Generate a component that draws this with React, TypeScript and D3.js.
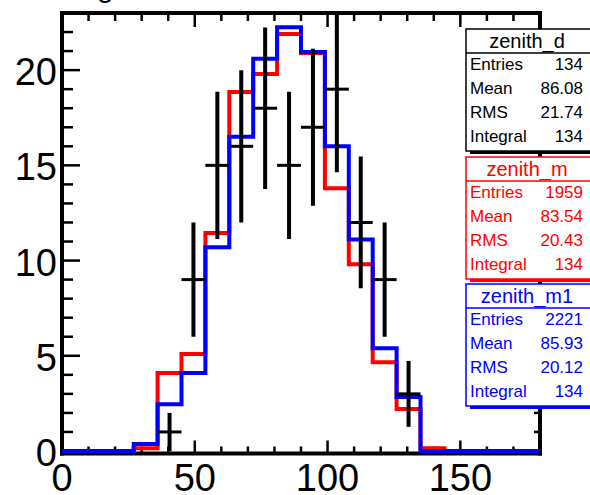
import React from "react";
import * as d3 from "d3";

// ---- data ----
const binEdges = d3.range(0, 181, 9); // 20 bins of width 9 between 0 and 180
const redValues = [0, 0, 0, 0.15, 4.1, 5.1, 11.45, 18.85, 19.8, 21.9, 20.9, 13.8, 9.8, 4.66, 2.2, 0.15, 0, 0, 0, 0];
const blueValues = [0, 0, 0, 0.37, 2.46, 4.1, 10.7, 16.5, 20.6, 22.25, 20.95, 16.0, 11.1, 5.4, 2.83, 0, 0, 0, 0, 0];
const dataCounts = [0, 0, 0, 0, 1, 9, 15, 16, 18, 15, 17, 19, 12, 9, 3, 0, 0, 0, 0, 0];
const dataErrors = [0, 0, 0, 0, 1, 3, 3.87, 4, 4.24, 3.87, 4.12, 4.36, 3.46, 3, 1.73, 0, 0, 0, 0, 0];

const xTickLabels = [0, 50, 100, 150];
const yTickLabels = [0, 5, 10, 15, 20];

const statNames = ["zenith_d", "zenith_m", "zenith_m1"];
const statColors = ["#000000", "#ff0000", "#0000ff"];
const statRowLabels = ["Entries", "Mean", "RMS", "Integral"];
const statEntries = ["134", "1959", "2221"];
const statMeans = ["86.08", "83.54", "85.93"];
const statRms = ["21.74", "20.43", "20.12"];
const statIntegrals = ["134", "134", "134"];

const W = 590;
const H = 495;
const FONT = "'Liberation Sans', Arial, Helvetica, sans-serif";

export default function App() {
  const left = 62, right = 540, top = 13, bottom = 452;
  const x = d3.scaleLinear().domain([0, 180]).range([left, right]);
  const y = d3.scaleLinear().domain([0, 23]).range([bottom - 1, top]);

  const stepPath = (vals: number[]) => {
    const pts: [number, number][] = [];
    vals.forEach((v, i) => {
      pts.push([x(binEdges[i]), y(v)]);
      pts.push([x(binEdges[i + 1]), y(v)]);
    });
    return d3.line()(pts) || "";
  };

  const xMinor = d3.range(0, 181, 10);
  const yMinor = d3.range(0, 23.01, 1);
  const axisBottom = bottom + 1.5;

  const boxTops = [29, 157, 284];
  const boxX = 466, boxW = 134, boxH = 122, headH = 24;

  return (
    <svg width={W} height={H} style={{ position: "absolute", left: 0, top: 0, background: "#fff" }} fontFamily={FONT}>
      <defs>
        <clipPath id="plotClip">
          <rect x={left} y={top} width={right - left} height={bottom - top + 4} />
        </clipPath>
      </defs>
      <rect x={0} y={0} width={W} height={H} fill="#fff" />

      {/* cut title descender */}
      <text x={97} y={-3} fontSize={30} fill="#000">g</text>

      {/* frame */}
      <line x1={left} x2={left} y1={top - 1.5} y2={axisBottom + 2} stroke="#000" strokeWidth={4} />
      <line x1={left - 2} x2={right + 2} y1={axisBottom} y2={axisBottom} stroke="#000" strokeWidth={4} />
      <line x1={left - 2} x2={right + 2} y1={top} y2={top} stroke="#000" strokeWidth={4} />
      <line x1={right} x2={right} y1={top - 1.5} y2={axisBottom + 2} stroke="#000" strokeWidth={4} />

      {/* x ticks bottom & top */}
      {xMinor.map((v) => {
        const major = v % 50 === 0;
        return (
          <g key={"xt" + v}>
            <line x1={x(v)} x2={x(v)} y1={axisBottom} y2={axisBottom - (major ? 13 : 7)} stroke="#000" strokeWidth={2.5} />
            <line x1={x(v)} x2={x(v)} y1={top} y2={top + (major ? 14 : 8)} stroke="#000" strokeWidth={2.5} />
          </g>
        );
      })}
      {/* y ticks left & right */}
      {yMinor.map((v) => {
        const major = v % 5 === 0;
        return (
          <g key={"yt" + v}>
            <line x1={left} x2={left + (major ? 18 : 11)} y1={y(v)} y2={y(v)} stroke="#000" strokeWidth={2.5} />
            <line x1={right} x2={right - (major ? 10 : 6)} y1={y(v)} y2={y(v)} stroke="#000" strokeWidth={2.5} />
          </g>
        );
      })}

      {/* histograms */}
      <g clipPath="url(#plotClip)">
        <path d={stepPath(redValues)} fill="none" stroke="#ff0000" strokeWidth={4} />
        <path d={stepPath(blueValues)} fill="none" stroke="#0000ff" strokeWidth={4} />
        {dataCounts.map((c, i) => {
          if (c <= 0) return null;
          const cx = x((binEdges[i] + binEdges[i + 1]) / 2);
          return (
            <g key={"d" + i}>
              <line x1={cx} x2={cx} y1={y(c + dataErrors[i])} y2={y(Math.max(0, c - dataErrors[i]))} stroke="#000" strokeWidth={4} />
              <line x1={x(binEdges[i])} x2={x(binEdges[i + 1])} y1={y(c)} y2={y(c)} stroke="#000" strokeWidth={3} />
            </g>
          );
        })}
      </g>

      {/* axis labels */}
      {xTickLabels.map((v) => (
        <text key={"xl" + v} x={x(v)} y={491} fontSize={38} textAnchor="middle" fill="#000">{v}</text>
      ))}
      {yTickLabels.map((v) => (
        <text key={"yl" + v} x={57} y={y(v) + 2} fontSize={38} textAnchor="end" dominantBaseline="central" fill="#000">{v}</text>
      ))}

      {/* stats boxes */}
      {statNames.map((name, k) => {
        const t = boxTops[k];
        const col = statColors[k];
        const vals = [statEntries[k], statMeans[k], statRms[k], statIntegrals[k]];
        return (
          <g key={"box" + k}>
            <rect x={boxX + 4} y={t + 3} width={boxW} height={boxH} fill={col} />
            <rect x={boxX} y={t} width={boxW} height={boxH} fill="#fff" stroke={col} strokeWidth={1.5} />
            <line x1={boxX} x2={boxX + boxW} y1={t + headH} y2={t + headH} stroke={col} strokeWidth={1.5} />
            <text x={527} y={t + 12} fontSize={20} textAnchor="middle" dominantBaseline="central" fill={col}>{name}</text>
            {statRowLabels.map((lab, r) => (
              <g key={lab}>
                <text x={470} y={t + 35 + 24.2 * r} fontSize={17} dominantBaseline="central" fill={col}>{lab}</text>
                <text x={583} y={t + 35 + 24.2 * r} fontSize={17} textAnchor="end" dominantBaseline="central" fill={col}>{vals[r]}</text>
              </g>
            ))}
          </g>
        );
      })}
    </svg>
  );
}
